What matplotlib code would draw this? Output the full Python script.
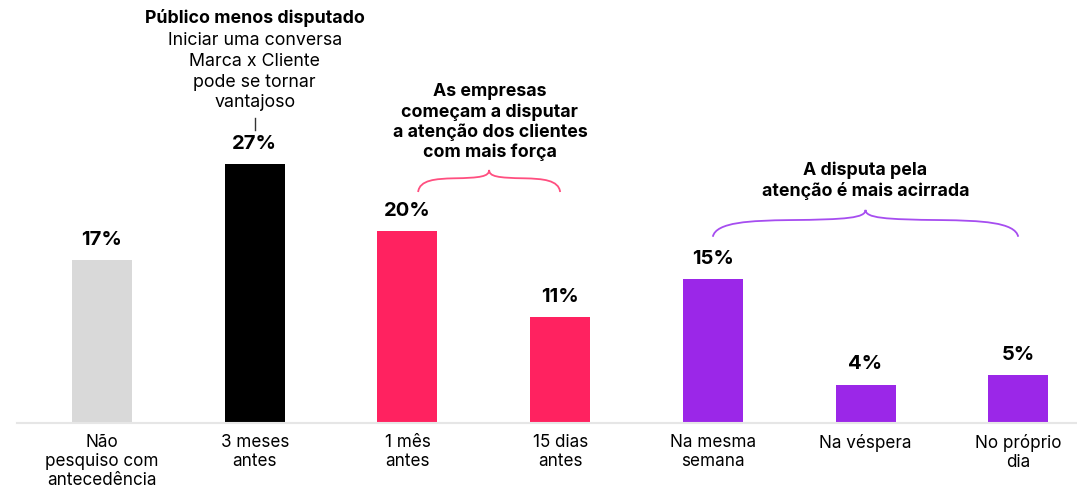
import matplotlib.pyplot as plt
import numpy as np
from matplotlib.path import Path
from matplotlib.patches import PathPatch

plt.rcParams['font.family'] = ['Inter', 'DejaVu Sans']

categories = ["Não\npesquiso com\nantecedência", "3 meses\nantes", "1 mês\nantes",
              "15 dias\nantes", "Na mesma\nsemana", "Na véspera", "No próprio\ndia"]
values = [17, 27, 20, 11, 15, 4, 5]
colors = ["#d9d9d9", "#000000", "#ff2260", "#ff2260", "#9b27e8", "#9b27e8", "#9b27e8"]

PINK_BRACE = "#ff4f80"
PURPLE_BRACE = "#a64df0"


def brace(ax, x0, x1, y0, h, color):
    xm = (x0 + x1) / 2
    w = xm - x0
    verts = [
        (x0, y0),
        (x0 + 0.02 * w, y0 + 0.55 * h), (x0 + 0.25 * w, y0 + 0.6 * h), (x0 + 0.5 * w, y0 + 0.62 * h),
        (xm - 0.12 * w, y0 + 0.64 * h), (xm, y0 + 0.7 * h), (xm, y0 + h),
        (xm, y0 + 0.7 * h), (xm + 0.12 * w, y0 + 0.64 * h), (xm + 0.5 * w, y0 + 0.62 * h),
        (x1 - 0.25 * w, y0 + 0.6 * h), (x1 - 0.02 * w, y0 + 0.55 * h), (x1, y0),
    ]
    codes = [Path.MOVETO] + [Path.CURVE4] * 12
    ax.add_patch(PathPatch(Path(verts, codes), fill=False, edgecolor=color, lw=1.3))


fig = plt.figure(figsize=(10.77, 4.9), dpi=100)
ax = fig.add_axes([17 / 1077, 67 / 490, 1060 / 1077, 423 / 490])

x = np.arange(len(categories))
ax.bar(x, values, width=0.393, color=colors, zorder=2)

for xi, v in zip(x, values):
    ax.annotate(f"{v}%", (xi, v), xytext=(0, 8), textcoords="offset points",
                ha="center", va="bottom", fontsize=14.5, fontweight="bold")

ax.set_xlim(-0.557, 6.385)
ax.set_ylim(0, 44.06)
ax.set_xticks(x)
ax.set_xticklabels(categories, fontsize=12.3, linespacing=1.15)
ax.tick_params(axis="x", length=0, pad=8)
ax.set_yticks([])
for s in ["top", "right", "left"]:
    ax.spines[s].set_visible(False)
ax.spines["bottom"].set_color("#e6e6e6")
ax.spines["bottom"].set_linewidth(1.5)

# annotations
ax.text(1, 42.2, "Público menos disputado", ha="center", va="center",
        fontsize=12.8, fontweight="bold")
ax.text(1, 36.6, "Iniciar uma conversa\nMarca x Cliente\npode se tornar\nvantajoso",
        ha="center", va="center", fontsize=12.8, linespacing=1.3)
ax.plot([1, 1], [30.5, 31.8], color="#333333", lw=1)

ax.text(2.54, 27.3, "As empresas\ncomeçam a disputar\na atenção dos clientes\ncom mais força",
        ha="center", va="bottom", fontsize=12.8, fontweight="bold", linespacing=1.2)
brace(ax, 2.07, 3.0, 24.06, 2.3, PINK_BRACE)

ax.text(5.0, 23.2, "A disputa pela\natenção é mais acirrada",
        ha="center", va="bottom", fontsize=12.8, fontweight="bold", linespacing=1.2)
brace(ax, 4.0, 6.0, 19.4, 2.8, PURPLE_BRACE)

fig.savefig("out.png", dpi=100)
